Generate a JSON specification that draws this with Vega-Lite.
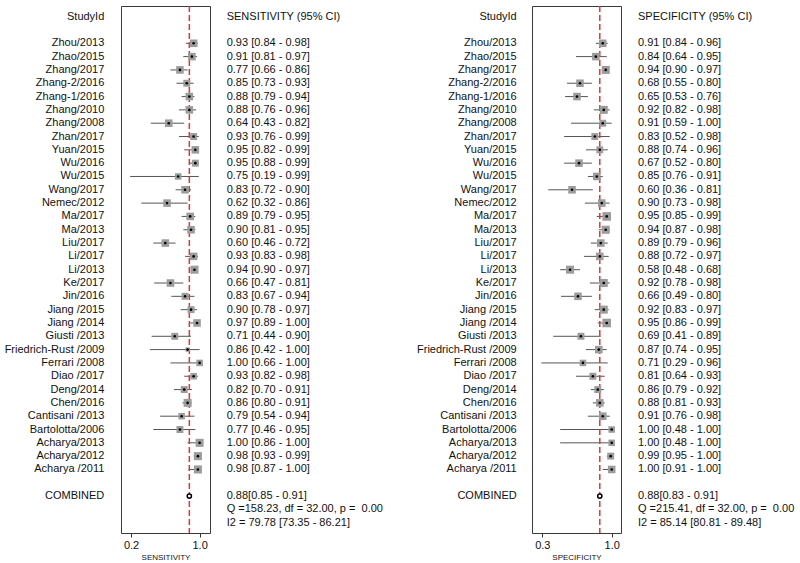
{
  "$schema": "https://vega.github.io/schema/vega-lite/v6.json",
  "background": "white",
  "padding": {"left": 4, "top": 4, "right": 0, "bottom": 0},
  "autosize": {"type": "pad"},
  "spacing": 322,
  "bounds": "flush",
  "config": {
    "font": "Liberation Sans",
    "view": {"stroke": "#3a3a3a", "strokeWidth": 1},
    "text": {"font": "Liberation Sans", "fontSize": 11, "color": "#111111", "baseline": "middle"},
    "axis": {
      "domain": false, "grid": false, "ticks": true, "tickSize": 4, "tickColor": "#333333", "tickWidth": 1,
      "labelFont": "Liberation Sans", "labelFontSize": 11, "labelColor": "#111111", "labelPadding": 2, "labelFlush": false,
      "titleFont": "Liberation Sans", "titleFontSize": 8, "titleFontWeight": "normal", "titleColor": "#111111", "titlePadding": 3
    }
  },
  "datasets": {
    "sens": [
      {"kind": "header", "order": -2, "label": "StudyId", "txt": "SENSITIVITY (95% CI)"},
      {"kind": "study", "order": 0, "label": "Zhou/2013", "est": 0.93, "lo": 0.84, "hi": 0.98, "w": 3.1, "txt": "0.93 [0.84 - 0.98]"},
      {"kind": "study", "order": 1, "label": "Zhao/2015", "est": 0.91, "lo": 0.81, "hi": 0.97, "w": 3.1, "txt": "0.91 [0.81 - 0.97]"},
      {"kind": "study", "order": 2, "label": "Zhang/2017", "est": 0.77, "lo": 0.66, "hi": 0.86, "w": 3.1, "txt": "0.77 [0.66 - 0.86]"},
      {"kind": "study", "order": 3, "label": "Zhang-2/2016", "est": 0.85, "lo": 0.73, "hi": 0.93, "w": 2.6, "txt": "0.85 [0.73 - 0.93]"},
      {"kind": "study", "order": 4, "label": "Zhang-1/2016", "est": 0.88, "lo": 0.79, "hi": 0.94, "w": 3.1, "txt": "0.88 [0.79 - 0.94]"},
      {"kind": "study", "order": 5, "label": "Zhang/2010", "est": 0.88, "lo": 0.76, "hi": 0.96, "w": 3.1, "txt": "0.88 [0.76 - 0.96]"},
      {"kind": "study", "order": 6, "label": "Zhang/2008", "est": 0.64, "lo": 0.43, "hi": 0.82, "w": 3.1, "txt": "0.64 [0.43 - 0.82]"},
      {"kind": "study", "order": 7, "label": "Zhan/2017", "est": 0.93, "lo": 0.76, "hi": 0.99, "w": 2.6, "txt": "0.93 [0.76 - 0.99]"},
      {"kind": "study", "order": 8, "label": "Yuan/2015", "est": 0.95, "lo": 0.82, "hi": 0.99, "w": 3.1, "txt": "0.95 [0.82 - 0.99]"},
      {"kind": "study", "order": 9, "label": "Wu/2016", "est": 0.95, "lo": 0.88, "hi": 0.99, "w": 2.6, "txt": "0.95 [0.88 - 0.99]"},
      {"kind": "study", "order": 10, "label": "Wu/2015", "est": 0.75, "lo": 0.19, "hi": 0.99, "w": 2.3, "txt": "0.75 [0.19 - 0.99]"},
      {"kind": "study", "order": 11, "label": "Wang/2017", "est": 0.83, "lo": 0.72, "hi": 0.90, "w": 3.1, "txt": "0.83 [0.72 - 0.90]"},
      {"kind": "study", "order": 12, "label": "Nemec/2012", "est": 0.62, "lo": 0.32, "hi": 0.86, "w": 3.1, "txt": "0.62 [0.32 - 0.86]"},
      {"kind": "study", "order": 13, "label": "Ma/2017", "est": 0.89, "lo": 0.79, "hi": 0.95, "w": 3.1, "txt": "0.89 [0.79 - 0.95]"},
      {"kind": "study", "order": 14, "label": "Ma/2013", "est": 0.90, "lo": 0.81, "hi": 0.95, "w": 3.1, "txt": "0.90 [0.81 - 0.95]"},
      {"kind": "study", "order": 15, "label": "Liu/2017", "est": 0.60, "lo": 0.46, "hi": 0.72, "w": 3.1, "txt": "0.60 [0.46 - 0.72]"},
      {"kind": "study", "order": 16, "label": "Li/2017", "est": 0.93, "lo": 0.83, "hi": 0.98, "w": 3.1, "txt": "0.93 [0.83 - 0.98]"},
      {"kind": "study", "order": 17, "label": "Li/2013", "est": 0.94, "lo": 0.90, "hi": 0.97, "w": 3.5, "txt": "0.94 [0.90 - 0.97]"},
      {"kind": "study", "order": 18, "label": "Ke/2017", "est": 0.66, "lo": 0.47, "hi": 0.81, "w": 3.1, "txt": "0.66 [0.47 - 0.81]"},
      {"kind": "study", "order": 19, "label": "Jin/2016", "est": 0.83, "lo": 0.67, "hi": 0.94, "w": 2.6, "txt": "0.83 [0.67 - 0.94]"},
      {"kind": "study", "order": 20, "label": "Jiang /2015", "est": 0.90, "lo": 0.78, "hi": 0.97, "w": 2.6, "txt": "0.90 [0.78 - 0.97]"},
      {"kind": "study", "order": 21, "label": "Jiang /2014", "est": 0.97, "lo": 0.89, "hi": 1.00, "w": 3.1, "txt": "0.97 [0.89 - 1.00]"},
      {"kind": "study", "order": 22, "label": "Giusti /2013", "est": 0.71, "lo": 0.44, "hi": 0.90, "w": 2.6, "txt": "0.71 [0.44 - 0.90]"},
      {"kind": "study", "order": 23, "label": "Friedrich-Rust /2009", "est": 0.86, "lo": 0.42, "hi": 1.00, "w": 1.0, "txt": "0.86 [0.42 - 1.00]"},
      {"kind": "study", "order": 24, "label": "Ferrari /2008", "est": 1.00, "lo": 0.66, "hi": 1.00, "w": 2.3, "txt": "1.00 [0.66 - 1.00]"},
      {"kind": "study", "order": 25, "label": "Diao /2017", "est": 0.93, "lo": 0.82, "hi": 0.98, "w": 2.3, "txt": "0.93 [0.82 - 0.98]"},
      {"kind": "study", "order": 26, "label": "Deng/2014", "est": 0.82, "lo": 0.70, "hi": 0.91, "w": 2.6, "txt": "0.82 [0.70 - 0.91]"},
      {"kind": "study", "order": 27, "label": "Chen/2016", "est": 0.86, "lo": 0.80, "hi": 0.91, "w": 3.5, "txt": "0.86 [0.80 - 0.91]"},
      {"kind": "study", "order": 28, "label": "Cantisani /2013", "est": 0.79, "lo": 0.54, "hi": 0.94, "w": 2.3, "txt": "0.79 [0.54 - 0.94]"},
      {"kind": "study", "order": 29, "label": "Bartolotta/2006", "est": 0.77, "lo": 0.46, "hi": 0.95, "w": 2.6, "txt": "0.77 [0.46 - 0.95]"},
      {"kind": "study", "order": 30, "label": "Acharya/2013", "est": 1.00, "lo": 0.86, "hi": 1.00, "w": 3.5, "txt": "1.00 [0.86 - 1.00]"},
      {"kind": "study", "order": 31, "label": "Acharya/2012", "est": 0.98, "lo": 0.93, "hi": 0.99, "w": 3.5, "txt": "0.98 [0.93 - 0.99]"},
      {"kind": "study", "order": 32, "label": "Acharya /2011", "est": 0.98, "lo": 0.87, "hi": 1.00, "w": 3.5, "txt": "0.98 [0.87 - 1.00]"},
      {"kind": "pooled", "order": 34, "label": "COMBINED", "est": 0.88, "lo": 0.85, "hi": 0.91, "txt": "\u00a00.88[0.85 - 0.91]"},
      {"kind": "stat", "order": 35, "label": "", "txt": "Q =158.23, df = 32.00, p = \u00a00.00"},
      {"kind": "stat", "order": 36, "label": "", "txt": "I2 = 79.78 [73.35 - 86.21]"}
    ],
    "spec": [
      {"kind": "header", "order": -2, "label": "StudyId", "txt": "SPECIFICITY (95% CI)"},
      {"kind": "study", "order": 0, "label": "Zhou/2013", "est": 0.91, "lo": 0.84, "hi": 0.96, "w": 3.1, "txt": "0.91 [0.84 - 0.96]"},
      {"kind": "study", "order": 1, "label": "Zhao/2015", "est": 0.84, "lo": 0.64, "hi": 0.95, "w": 3.1, "txt": "0.84 [0.64 - 0.95]"},
      {"kind": "study", "order": 2, "label": "Zhang/2017", "est": 0.94, "lo": 0.90, "hi": 0.97, "w": 3.5, "txt": "0.94 [0.90 - 0.97]"},
      {"kind": "study", "order": 3, "label": "Zhang-2/2016", "est": 0.68, "lo": 0.55, "hi": 0.80, "w": 3.1, "txt": "0.68 [0.55 - 0.80]"},
      {"kind": "study", "order": 4, "label": "Zhang-1/2016", "est": 0.65, "lo": 0.53, "hi": 0.76, "w": 3.1, "txt": "0.65 [0.53 - 0.76]"},
      {"kind": "study", "order": 5, "label": "Zhang/2010", "est": 0.92, "lo": 0.82, "hi": 0.98, "w": 3.5, "txt": "0.92 [0.82 - 0.98]"},
      {"kind": "study", "order": 6, "label": "Zhang/2008", "est": 0.91, "lo": 0.59, "hi": 1.00, "w": 2.6, "txt": "0.91 [0.59 - 1.00]"},
      {"kind": "study", "order": 7, "label": "Zhan/2017", "est": 0.83, "lo": 0.52, "hi": 0.98, "w": 2.6, "txt": "0.83 [0.52 - 0.98]"},
      {"kind": "study", "order": 8, "label": "Yuan/2015", "est": 0.88, "lo": 0.74, "hi": 0.96, "w": 2.6, "txt": "0.88 [0.74 - 0.96]"},
      {"kind": "study", "order": 9, "label": "Wu/2016", "est": 0.67, "lo": 0.52, "hi": 0.80, "w": 3.1, "txt": "0.67 [0.52 - 0.80]"},
      {"kind": "study", "order": 10, "label": "Wu/2015", "est": 0.85, "lo": 0.76, "hi": 0.91, "w": 3.1, "txt": "0.85 [0.76 - 0.91]"},
      {"kind": "study", "order": 11, "label": "Wang/2017", "est": 0.60, "lo": 0.36, "hi": 0.81, "w": 3.1, "txt": "0.60 [0.36 - 0.81]"},
      {"kind": "study", "order": 12, "label": "Nemec/2012", "est": 0.90, "lo": 0.73, "hi": 0.98, "w": 3.1, "txt": "0.90 [0.73 - 0.98]"},
      {"kind": "study", "order": 13, "label": "Ma/2017", "est": 0.95, "lo": 0.85, "hi": 0.99, "w": 4.0, "txt": "0.95 [0.85 - 0.99]"},
      {"kind": "study", "order": 14, "label": "Ma/2013", "est": 0.94, "lo": 0.87, "hi": 0.98, "w": 3.5, "txt": "0.94 [0.87 - 0.98]"},
      {"kind": "study", "order": 15, "label": "Liu/2017", "est": 0.89, "lo": 0.79, "hi": 0.96, "w": 3.1, "txt": "0.89 [0.79 - 0.96]"},
      {"kind": "study", "order": 16, "label": "Li/2017", "est": 0.88, "lo": 0.72, "hi": 0.97, "w": 3.1, "txt": "0.88 [0.72 - 0.97]"},
      {"kind": "study", "order": 17, "label": "Li/2013", "est": 0.58, "lo": 0.48, "hi": 0.68, "w": 3.5, "txt": "0.58 [0.48 - 0.68]"},
      {"kind": "study", "order": 18, "label": "Ke/2017", "est": 0.92, "lo": 0.78, "hi": 0.98, "w": 3.5, "txt": "0.92 [0.78 - 0.98]"},
      {"kind": "study", "order": 19, "label": "Jin/2016", "est": 0.66, "lo": 0.49, "hi": 0.80, "w": 3.1, "txt": "0.66 [0.49 - 0.80]"},
      {"kind": "study", "order": 20, "label": "Jiang /2015", "est": 0.92, "lo": 0.83, "hi": 0.97, "w": 3.5, "txt": "0.92 [0.83 - 0.97]"},
      {"kind": "study", "order": 21, "label": "Jiang /2014", "est": 0.95, "lo": 0.86, "hi": 0.99, "w": 4.0, "txt": "0.95 [0.86 - 0.99]"},
      {"kind": "study", "order": 22, "label": "Giusti /2013", "est": 0.69, "lo": 0.41, "hi": 0.89, "w": 2.6, "txt": "0.69 [0.41 - 0.89]"},
      {"kind": "study", "order": 23, "label": "Friedrich-Rust /2009", "est": 0.87, "lo": 0.74, "hi": 0.95, "w": 3.1, "txt": "0.87 [0.74 - 0.95]"},
      {"kind": "study", "order": 24, "label": "Ferrari /2008", "est": 0.71, "lo": 0.29, "hi": 0.96, "w": 2.3, "txt": "0.71 [0.29 - 0.96]"},
      {"kind": "study", "order": 25, "label": "Diao /2017", "est": 0.81, "lo": 0.64, "hi": 0.93, "w": 2.6, "txt": "0.81 [0.64 - 0.93]"},
      {"kind": "study", "order": 26, "label": "Deng/2014", "est": 0.86, "lo": 0.79, "hi": 0.92, "w": 2.6, "txt": "0.86 [0.79 - 0.92]"},
      {"kind": "study", "order": 27, "label": "Chen/2016", "est": 0.88, "lo": 0.81, "hi": 0.93, "w": 3.1, "txt": "0.88 [0.81 - 0.93]"},
      {"kind": "study", "order": 28, "label": "Cantisani /2013", "est": 0.91, "lo": 0.76, "hi": 0.98, "w": 3.1, "txt": "0.91 [0.76 - 0.98]"},
      {"kind": "study", "order": 29, "label": "Bartolotta/2006", "est": 1.00, "lo": 0.48, "hi": 1.00, "w": 2.3, "txt": "1.00 [0.48 - 1.00]"},
      {"kind": "study", "order": 30, "label": "Acharya/2013", "est": 1.00, "lo": 0.48, "hi": 1.00, "w": 2.3, "txt": "1.00 [0.48 - 1.00]"},
      {"kind": "study", "order": 31, "label": "Acharya/2012", "est": 0.99, "lo": 0.95, "hi": 1.00, "w": 2.6, "txt": "0.99 [0.95 - 1.00]"},
      {"kind": "study", "order": 32, "label": "Acharya /2011", "est": 1.00, "lo": 0.91, "hi": 1.00, "w": 3.1, "txt": "1.00 [0.91 - 1.00]"},
      {"kind": "pooled", "order": 34, "label": "COMBINED", "est": 0.88, "lo": 0.83, "hi": 0.91, "txt": "\u00a00.88[0.83 - 0.91]"},
      {"kind": "stat", "order": 35, "label": "", "txt": "Q =215.41, df = 32.00, p = \u00a00.00"},
      {"kind": "stat", "order": 36, "label": "", "txt": "I2 = 85.14 [80.81 - 89.48]"}
    ]
  },
  "resolve": {"scale": {"x": "independent", "y": "independent", "size": "independent"}},
  "hconcat": [
    {
      "width": 89,
      "height": 527,
      "data": {"name": "sens"},
      "layer": [
        {
          "transform": [{"filter": "datum.kind === 'study'"}],
          "mark": {"type": "rule", "color": "#555555", "strokeWidth": 1},
          "encoding": {
            "x": {"field": "lo", "type": "quantitative",
                  "scale": {"domain": [0.083, 1.121], "nice": false, "zero": false},
                  "axis": {"title": "SENSITIVITY", "values": [0.2, 1.0], "format": ".1f"}},
            "x2": {"field": "hi"},
            "y": {"field": "order", "type": "quantitative", "scale": {"domain": [-2.8, 36.77], "reverse": true, "nice": false, "zero": false}, "axis": null}
          }
        },
        {
          "transform": [{"filter": "datum.kind === 'pooled'"}],
          "mark": {"type": "rule", "color": "#e0363b", "strokeWidth": 1.5, "strokeDash": [6, 3]},
          "encoding": {"x": {"field": "est", "type": "quantitative"}}
        },
        {
          "transform": [{"filter": "datum.kind === 'study'"}],
          "mark": {"type": "point", "shape": "square", "filled": true, "color": "#9c9c9c", "opacity": 1},
          "encoding": {
            "x": {"field": "est", "type": "quantitative"},
            "y": {"field": "order", "type": "quantitative"},
            "size": {"field": "w", "type": "quantitative", "scale": {"domain": [0, 4], "range": [0, 74]}, "legend": null}
          }
        },
        {
          "transform": [{"filter": "datum.kind === 'study'"}],
          "mark": {"type": "point", "shape": "circle", "filled": true, "color": "#000000", "size": 7, "opacity": 1},
          "encoding": {
            "x": {"field": "est", "type": "quantitative"},
            "y": {"field": "order", "type": "quantitative"}
          }
        },
        {
          "transform": [{"filter": "datum.kind === 'pooled'"}],
          "mark": {"type": "point", "shape": "circle", "filled": true, "fill": "white", "stroke": "#000000", "strokeWidth": 1.5, "size": 18, "opacity": 1},
          "encoding": {
            "x": {"field": "est", "type": "quantitative"},
            "y": {"field": "order", "type": "quantitative"}
          }
        },
        {
          "mark": {"type": "text", "align": "right", "dx": -16.7},
          "encoding": {
            "x": {"datum": 0.083},
            "y": {"field": "order", "type": "quantitative"},
            "text": {"field": "label"}
          }
        },
        {
          "mark": {"type": "text", "align": "left", "dx": 16.7},
          "encoding": {
            "x": {"datum": 1.121},
            "y": {"field": "order", "type": "quantitative"},
            "text": {"field": "txt"}
          }
        }
      ]
    },
    {
      "width": 89,
      "height": 527,
      "data": {"name": "spec"},
      "layer": [
        {
          "transform": [{"filter": "datum.kind === 'study'"}],
          "mark": {"type": "rule", "color": "#555555", "strokeWidth": 1},
          "encoding": {
            "x": {"field": "lo", "type": "quantitative",
                  "scale": {"domain": [0.196, 1.094], "nice": false, "zero": false},
                  "axis": {"title": "SPECIFICITY", "values": [0.3, 1.0], "format": ".1f"}},
            "x2": {"field": "hi"},
            "y": {"field": "order", "type": "quantitative", "scale": {"domain": [-2.8, 36.77], "reverse": true, "nice": false, "zero": false}, "axis": null}
          }
        },
        {
          "transform": [{"filter": "datum.kind === 'pooled'"}],
          "mark": {"type": "rule", "color": "#e0363b", "strokeWidth": 1.5, "strokeDash": [6, 3]},
          "encoding": {"x": {"field": "est", "type": "quantitative"}}
        },
        {
          "transform": [{"filter": "datum.kind === 'study'"}],
          "mark": {"type": "point", "shape": "square", "filled": true, "color": "#9c9c9c", "opacity": 1},
          "encoding": {
            "x": {"field": "est", "type": "quantitative"},
            "y": {"field": "order", "type": "quantitative"},
            "size": {"field": "w", "type": "quantitative", "scale": {"domain": [0, 4], "range": [0, 74]}, "legend": null}
          }
        },
        {
          "transform": [{"filter": "datum.kind === 'study'"}],
          "mark": {"type": "point", "shape": "circle", "filled": true, "color": "#000000", "size": 7, "opacity": 1},
          "encoding": {
            "x": {"field": "est", "type": "quantitative"},
            "y": {"field": "order", "type": "quantitative"}
          }
        },
        {
          "transform": [{"filter": "datum.kind === 'pooled'"}],
          "mark": {"type": "point", "shape": "circle", "filled": true, "fill": "white", "stroke": "#000000", "strokeWidth": 1.5, "size": 18, "opacity": 1},
          "encoding": {
            "x": {"field": "est", "type": "quantitative"},
            "y": {"field": "order", "type": "quantitative"}
          }
        },
        {
          "mark": {"type": "text", "align": "right", "dx": -15.3},
          "encoding": {
            "x": {"datum": 0.196},
            "y": {"field": "order", "type": "quantitative"},
            "text": {"field": "label"}
          }
        },
        {
          "mark": {"type": "text", "align": "left", "dx": 17},
          "encoding": {
            "x": {"datum": 1.094},
            "y": {"field": "order", "type": "quantitative"},
            "text": {"field": "txt"}
          }
        }
      ]
    }
  ]
}
